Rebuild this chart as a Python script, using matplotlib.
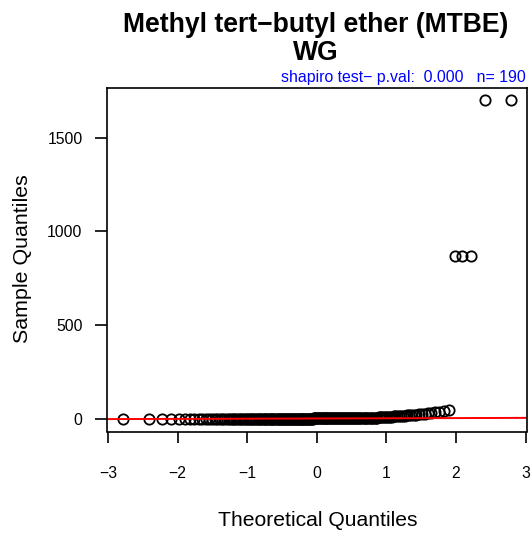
import matplotlib
matplotlib.use("Agg")
import matplotlib.pyplot as plt
import numpy as np
from statistics import NormalDist

plt.rcParams['font.family'] = ['Liberation Sans', 'DejaVu Sans']

title_lines = ["Methyl tert\u2212butyl ether (MTBE)", "WG"]
subtitle = "shapiro test\u2212 p.val:  0.000   n= 190"
x_label = "Theoretical Quantiles"
y_label = "Sample Quantiles"
x_ticks = [-3, -2, -1, 0, 1, 2, 3]
y_ticks = [0, 500, 1000, 1500]

# sorted sample values
sample_values = [
    0.05, 0.1, 0.1, 0.15, 0.2, 0.2, 0.2, 0.25, 0.25, 0.3, 0.3, 0.3, 0.35, 0.35, 0.35, 0.4, 0.4, 0.4, 0.4, 0.45,
    0.45, 0.45, 0.45, 0.5, 0.5, 0.5, 0.5, 0.5, 0.55, 0.55, 0.55, 0.55, 0.6, 0.6, 0.6, 0.6, 0.6, 0.65, 0.65, 0.65,
    0.65, 0.7, 0.7, 0.7, 0.7, 0.75, 0.75, 0.75, 0.8, 0.8, 0.8, 0.8, 0.85, 0.85, 0.85, 0.9, 0.9, 0.9, 0.9, 0.95,
    0.95, 0.95, 1.0, 1.0, 1.0, 1.0, 1.05, 1.05, 1.05, 1.1, 1.1, 1.1, 1.1, 1.15, 1.15, 1.15, 1.2, 1.2, 1.2, 1.25,
    1.25, 1.25, 1.3, 1.3, 1.3, 1.35, 1.35, 1.35, 1.4, 1.4, 1.4, 1.45, 1.45, 1.5, 1.5, 1.5, 1.55, 1.55, 1.6, 1.6,
    1.6, 1.62, 1.64, 1.66, 1.68, 1.7, 1.72, 1.74, 1.76, 1.78, 1.8, 1.82, 1.84, 1.86, 1.88, 1.9, 1.92, 1.94, 1.96, 1.98,
    1.99, 2.0, 2.0, 2.01, 2.02, 2.03, 2.04, 2.05, 2.06, 2.07, 2.08, 2.09, 2.1, 2.11, 2.12, 2.13, 2.14, 2.15, 2.16, 2.17,
    2.18, 2.2, 2.22, 2.3, 2.5, 2.8, 3.2, 3.6, 4.0, 4.5, 5.0, 5.5, 6.0, 6.6, 7.2, 7.8, 8.4, 9.0, 9.5, 10,
    10.5, 11, 11.5, 12, 12.5, 13, 13.5, 14, 15, 16, 17, 18, 19, 20, 21, 22, 24, 26, 28, 30,
    32, 35, 38, 41, 45,
    870, 870, 870, 1700, 1700,
]

y = np.sort(np.array(sample_values, dtype=float))
n = len(y)
nd = NormalDist()
a = 0.5 if n > 10 else 3.0 / 8
x = np.array([nd.inv_cdf((i - a) / (n + 1 - 2 * a)) for i in range(1, n + 1)])

# qqline through quartiles
q1, q3 = np.quantile(y, [0.25, 0.75])
z1, z3 = nd.inv_cdf(0.25), nd.inv_cdf(0.75)
slope = (q3 - q1) / (z3 - z1)
intercept = q1 - slope * z1

fig = plt.figure(figsize=(5.32, 5.33), dpi=100)
ax = fig.add_axes([107 / 532, 1 - 431.5 / 533, (526.5 - 107) / 532, (431.5 - 87.5) / 533])

ax.plot(x, y, linestyle='none', marker='o', markersize=7.4, markerfacecolor='none',
        markeredgecolor='black', markeredgewidth=1.3)

xr = x.max() - x.min()
yr = y.max() - y.min()
xlim = (x.min() - 0.04 * xr, x.max() + 0.04 * xr)
ax.set_ylim(y.min() - 0.04 * yr, y.max() + 0.04 * yr)
xl = np.array(xlim)
ax.plot(xl, intercept + slope * xl, color='red', linewidth=1.4)
ax.set_xlim(*xlim)

ax.set_xticks(x_ticks)
ax.set_yticks(y_ticks)
ax.set_xticklabels([("\u2212" + str(-t)) if t < 0 else str(t) for t in x_ticks])
for s in ax.spines.values():
    s.set_linewidth(1.2)
ax.tick_params(axis='x', length=8, width=1.2, pad=17, labelsize=11.3)
ax.tick_params(axis='y', length=8.6, width=1.2, pad=9, labelsize=11.3)

fig.text(316 / 532, 1 - 32 / 533, title_lines[0], ha='center', va='baseline',
         fontsize=19.1, fontweight='bold')
fig.text(316 / 532, 1 - 60 / 533, title_lines[1], ha='center', va='baseline',
         fontsize=19.1, fontweight='bold')
fig.text(526 / 532, 1 - 82 / 533, subtitle, ha='right', va='baseline',
         fontsize=11.4, color='blue')
fig.text(318 / 532, 1 - 526 / 533, x_label, ha='center', va='baseline', fontsize=15.2)
fig.text(23 / 532, 1 - 259 / 533, y_label, ha='center', va='center', rotation=90, fontsize=15.4)

fig.savefig("out.png", dpi=100)
